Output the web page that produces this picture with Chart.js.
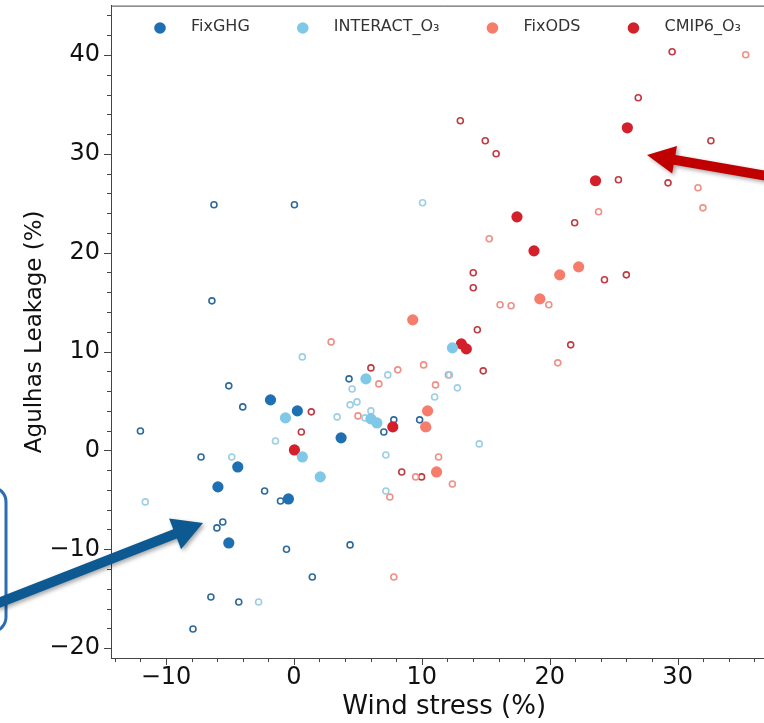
<!DOCTYPE html>
<html><head><meta charset="utf-8">
<script src="https://cdn.jsdelivr.net/npm/chart.js@4.4.1/dist/chart.umd.min.js"></script>
<style>html,body{margin:0;padding:0;overflow:hidden;background:#fff}</style>
</head><body>
<canvas id="c" width="783" height="723"></canvas>
<script>
// ---- data ----
const seriesNames = ['FixGHG', 'INTERACT_O\u2083', 'FixODS', 'CMIP6_O\u2083'];
const xTickValues = [-10, 0, 10, 20, 30];
const yTickValues = [-20, -10, 0, 10, 20, 30, 40];

// ensemble means (filled)
const fixGHG_mean = [[-1.83,5.11],[0.27,4.0],[3.69,1.27],[-4.39,-1.67],[-5.94,-3.69],[-0.43,-4.91],[-5.09,-9.36]];
const interact_mean = [[-0.66,3.29],[0.66,-0.66],[2.06,-2.68],[5.63,7.24],[6.02,3.19],[6.49,2.78],[12.39,10.37]];
const fixODS_mean = [[9.29,13.21],[10.45,4.0],[10.3,2.38],[11.15,-2.18],[19.23,15.33],[20.78,17.76],[22.26,18.57]];
const cmip6_mean = [[26.07,32.64],[23.58,27.28],[17.44,23.63],[18.77,20.19],[13.09,10.78],[13.48,10.27],[7.73,2.38],[0.04,0.05]];

// individual members (open)
const fixGHG_members = [[-6.25,24.85],[0.04,24.85],[-6.41,15.13],[-5.09,6.53],[-4.0,4.4],[-12.0,1.97],[-7.26,-0.66],[-2.29,-4.1],[-1.05,-5.11],[-5.56,-7.24],[-6.02,-7.84],[-0.58,-10.0],[1.44,-12.8],[-6.49,-14.83],[-4.31,-15.33],[-7.89,-18.07],[4.39,-9.56],[4.31,7.24],[9.83,3.09],[7.81,3.09],[7.03,1.87]];
const interact_members = [[10.06,25.05],[0.66,9.46],[7.34,7.64],[4.55,6.22],[4.39,4.61],[4.93,4.91],[3.38,3.39],[6.02,4.0],[5.56,3.29],[-1.44,0.96],[-4.86,-0.66],[-11.62,-5.21],[-2.76,-15.33],[7.19,-0.46],[7.19,-4.1],[11.0,5.41],[12.78,6.33],[12.16,7.64],[14.49,0.66],[10.45,2.28]];
const fixODS_members = [[35.32,40.03],[31.59,26.57],[31.98,24.54],[23.82,24.14],[15.27,21.41],[16.12,14.73],[16.98,14.63],[19.93,14.73],[20.63,8.86],[11.07,6.63],[12.08,7.64],[2.91,10.98],[10.14,8.65],[8.12,8.15],[6.64,6.73],[5.01,3.49],[7.5,-4.71],[9.52,-2.68],[7.81,-12.8],[11.31,-0.66],[12.39,-3.39]];
const cmip6_members = [[29.57,40.33],[26.92,35.68],[13.01,33.35],[14.96,31.33],[15.81,30.01],[32.6,31.33],[25.37,27.38],[29.25,27.07],[21.95,23.03],[14.02,17.97],[14.02,16.45],[24.28,17.26],[25.99,17.76],[14.34,12.2],[21.64,10.68],[14.8,8.05],[1.36,3.9],[0.58,1.87],[6.02,8.35],[8.43,-2.18],[9.98,-2.68]];

// ---- styling ----
const fillColors = ['#1f70b3', '#80c8e8', '#f67d6b', '#d4202a'];
const openColors = ['#2d6a9c', '#9ccfe6', '#ef8f86', '#c13a41'];
const FONT = 'DejaVu Sans';

const toPts = arr => arr.map(p => ({x: p[0], y: p[1]}));
const means = [fixGHG_mean, interact_mean, fixODS_mean, cmip6_mean];
const members = [fixGHG_members, interact_members, fixODS_members, cmip6_members];

const datasets = [];
means.forEach((m, i) => datasets.push({
  label: seriesNames[i], data: toPts(m), pointRadius: 5.6, pointBorderWidth: 0,
  pointBackgroundColor: fillColors[i], pointBorderColor: fillColors[i], showLine: false
}));
members.forEach((m, i) => datasets.push({
  label: seriesNames[i] + ' members', data: toPts(m), pointRadius: 3, pointBorderWidth: 1.6,
  pointBackgroundColor: 'rgba(255,255,255,0)', pointBorderColor: openColors[i], showLine: false
}));

const fmt = v => (v < 0 ? '\u2212' + Math.abs(v) : String(v));
const noPad = s => { s.paddingTop = 0; s.paddingBottom = 0; s.paddingLeft = 0; s.paddingRight = 0; };

const axisDecor = {
  id: 'axisDecor',
  afterDraw(chart) {
    const {ctx, chartArea: a, scales: {x, y}} = chart;
    ctx.save();
    ctx.strokeStyle = '#444'; ctx.lineWidth = 1;
    ctx.beginPath();
    ctx.moveTo(a.left, a.top + 0.5); ctx.lineTo(a.right, a.top + 0.5);
    for (let v = Math.ceil(x.min / 2) * 2; v <= x.max; v += 2) {
      const px = Math.round(x.getPixelForValue(v)) + 0.5;
      const len = v % 10 === 0 ? 7 : 4;
      ctx.moveTo(px, a.bottom); ctx.lineTo(px, a.bottom + len);
    }
    for (let v = Math.ceil(y.min / 2) * 2; v <= y.max; v += 2) {
      const py = Math.round(y.getPixelForValue(v)) + 0.5;
      const len = v % 10 === 0 ? 7 : 4;
      ctx.moveTo(a.left, py); ctx.lineTo(a.left - len, py);
    }
    ctx.stroke();
    ctx.restore();
  }
};

const legendPlugin = {
  id: 'mplLegend',
  afterDraw(chart) {
    const {ctx} = chart;
    ctx.save();
    ctx.font = '16px "' + FONT + '"';
    ctx.textBaseline = 'middle';
    let x = 160; const y = 28;
    seriesNames.forEach((name, i) => {
      ctx.beginPath(); ctx.fillStyle = fillColors[i];
      ctx.arc(x, y, 5.8, 0, Math.PI * 2); ctx.fill();
      ctx.fillStyle = '#333';
      const tx = x + 31;
      ctx.fillText(name, tx, y - 1);
      x = tx + ctx.measureText(name).width + 53;
    });
    ctx.restore();
  }
};

function drawArrow(ctx, x0, y0, x1, y1, sw, hl, hw, color) {
  const ang = Math.atan2(y1 - y0, x1 - x0);
  const len = Math.hypot(x1 - x0, y1 - y0);
  ctx.save();
  ctx.translate(x0, y0); ctx.rotate(ang);
  ctx.shadowColor = 'rgba(0,0,0,0.35)'; ctx.shadowBlur = 4; ctx.shadowOffsetX = 2; ctx.shadowOffsetY = 2;
  ctx.beginPath();
  ctx.moveTo(0, -sw / 2); ctx.lineTo(len - hl, -sw / 2); ctx.lineTo(len - hl, -hw / 2);
  ctx.lineTo(len, 0); ctx.lineTo(len - hl, hw / 2); ctx.lineTo(len - hl, sw / 2); ctx.lineTo(0, sw / 2);
  ctx.closePath();
  ctx.fillStyle = color; ctx.fill();
  ctx.restore();
}

const annotations = {
  id: 'annot',
  afterDraw(chart) {
    const {ctx} = chart;
    ctx.save();
    ctx.strokeStyle = '#2a6db0'; ctx.lineWidth = 3;
    ctx.beginPath();
    ctx.roundRect(-40, 487, 46, 145, 15);
    ctx.stroke();
    ctx.restore();
    drawArrow(ctx, -4, 604, 203, 523, 10, 30, 33, '#0d5a92');
    drawArrow(ctx, 790, 180, 647, 155, 10, 28, 28, '#c00000');
  }
};

new Chart(document.getElementById('c'), {
  type: 'scatter',
  data: {datasets},
  options: {
    responsive: false, animation: false, devicePixelRatio: 1,
    layout: {padding: {top: 5, right: 1, left: 0, bottom: 0}},
    plugins: {legend: {display: false}, tooltip: {enabled: false}},
    scales: {
      x: {
        type: 'linear', min: -14.3, max: 37.8,
        afterBuildTicks: s => { s.ticks = xTickValues.map(v => ({value: v})); },
        afterFit: s => { s.height = 65; noPad(s); },
        grid: {display: true, drawOnChartArea: false, drawTicks: false},
        border: {display: true, color: '#444', width: 1},
        ticks: {font: {family: FONT, size: 24}, color: '#111', padding: 5, maxRotation: 0, autoSkip: false, callback: v => fmt(v)},
        title: {display: true, text: 'Wind stress (%)', font: {family: FONT, size: 26}, color: '#111', padding: {top: 0, bottom: 0}}
      },
      y: {
        type: 'linear', min: -21, max: 45,
        afterBuildTicks: s => { s.ticks = yTickValues.map(v => ({value: v})); },
        afterFit: s => { s.width = 111; noPad(s); },
        grid: {display: true, drawOnChartArea: false, drawTicks: false},
        border: {display: true, color: '#444', width: 1},
        ticks: {font: {family: FONT, size: 24}, color: '#111', padding: 11, autoSkip: false, callback: v => fmt(v)},
        title: {display: true, text: 'Agulhas Leakage (%)', font: {family: FONT, size: 23}, color: '#111', padding: {top: 21, bottom: 0}}
      }
    }
  },
  plugins: [axisDecor, legendPlugin, annotations]
});
</script>
</body></html>
